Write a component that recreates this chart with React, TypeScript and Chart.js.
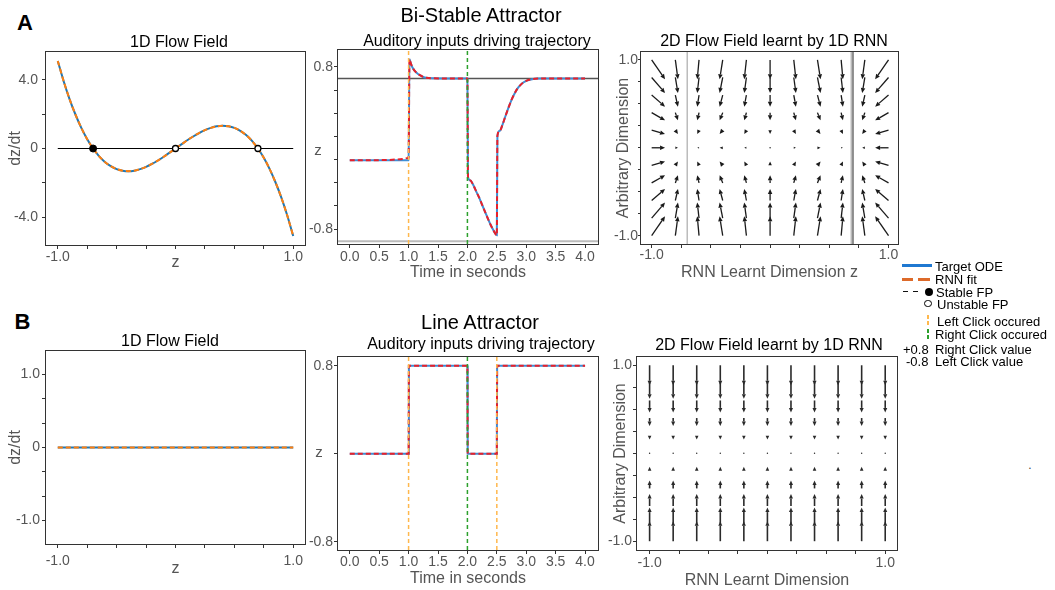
import React, { useEffect, useRef } from 'react';
import { Chart, registerables } from 'chart.js';

Chart.register(...registerables);

const FONT = '"Liberation Sans", Arial, Helvetica, sans-serif';
const TICK_COLOR = '#555555';
const SPINE = '#333333';

// ---------- Colours ----------
const TARGET_BLUE = '#1f77b4';
const FIT_ORANGE = '#ff7f0e';
const TRAJ_BLUE = '#3d8fd6';
const TRAJ_RED = '#e8202a';
const LEFT_CLICK = '#ffb84d';
const RIGHT_CLICK = '#2ca02c';

// ---------- Panel A1 / B1 : 1D flow field ----------
const flowZ = [
  -1.0, -0.95, -0.9, -0.85, -0.8, -0.75, -0.7, -0.65, -0.6, -0.55, -0.5, -0.45, -0.4, -0.35, -0.3, -0.25, -0.2,
  -0.15, -0.1, -0.05, 0, 0.05, 0.1, 0.15, 0.2, 0.25, 0.3, 0.35, 0.4, 0.45, 0.5, 0.55, 0.6, 0.65, 0.7, 0.75, 0.8,
  0.85, 0.9, 0.95, 1.0,
];
const bistableTargetDz = [
  5.1, 3.92, 2.88, 1.98, 1.2, 0.54, 0.0, -0.44, -0.78, -1.03, -1.2, -1.29, -1.32, -1.29, -1.2, -1.07, -0.9, -0.7,
  -0.48, -0.24, 0.0, 0.24, 0.48, 0.7, 0.9, 1.07, 1.2, 1.29, 1.32, 1.29, 1.2, 1.03, 0.78, 0.44, 0.0, -0.54, -1.2,
  -1.98, -2.88, -3.92, -5.1,
];
const bistableFitDz = [
  5.1, 3.92, 2.88, 1.98, 1.2, 0.54, 0.0, -0.44, -0.78, -1.03, -1.2, -1.29, -1.32, -1.29, -1.2, -1.07, -0.9, -0.7,
  -0.48, -0.24, 0.0, 0.24, 0.48, 0.7, 0.9, 1.07, 1.2, 1.29, 1.32, 1.29, 1.2, 1.03, 0.78, 0.44, 0.0, -0.54, -1.2,
  -1.98, -2.88, -3.92, -5.1,
];
const zeroLineZ = [-1, 1];
const zeroLineDz = [0, 0];
const stableFpZ = [-0.7];
const stableFpDz = [0];
const unstableFpZ = [0, 0.7];
const unstableFpDz = [0, 0];

const lineFlowZ = [-1, 1];
const lineTargetDz = [0, 0];
const lineFitDz = [0, 0];

const flowXTicks = [-1, -0.75, -0.5, -0.25, 0, 0.25, 0.5, 0.75, 1];
const flowXLabels = ['-1.0', '', '', '', '', '', '', '', '1.0'];
const flowAYTicks = [-4, -2, 0, 2, 4];
const flowAYLabels = ['-4.0', '', '0', '', '4.0'];
const flowBYTicks = [-1, -0.667, -0.333, 0, 0.333, 0.667, 1];
const flowBYLabels = ['-1.0', '', '', '0', '', '', '1.0'];

// ---------- Panel A2 / B2 : trajectories ----------
const timeTicks = [0, 0.5, 1, 1.5, 2, 2.5, 3, 3.5, 4];
const timeLabels = ['0.0', '0.5', '1.0', '1.5', '2.0', '2.5', '3.0', '3.5', '4.0'];

const bistableTime = [
  0, 0.5, 0.9, 0.99, 1.0, 1.015, 1.03, 1.05, 1.08, 1.12, 1.16, 1.2, 1.25, 1.3, 1.4, 1.6, 2.0, 2.01, 2.05, 2.1, 2.15,
  2.2, 2.25, 2.3, 2.35, 2.4, 2.45, 2.5, 2.51, 2.55, 2.6, 2.65, 2.7, 2.75, 2.8, 2.85, 2.9, 2.95, 3.0, 3.1, 3.2, 3.4,
  4.0,
];
const bistableTargetZ = [
  -0.12, -0.12, -0.12, -0.12, -0.118, 0.876, 0.85, 0.815, 0.78, 0.75, 0.73, 0.715, 0.7, 0.692, 0.687, 0.686, 0.686,
  -0.29, -0.32, -0.366, -0.43, -0.49, -0.56, -0.63, -0.7, -0.765, -0.82, -0.86, 0.12, 0.17, 0.235, 0.32, 0.4, 0.475,
  0.535, 0.585, 0.62, 0.645, 0.662, 0.678, 0.684, 0.686, 0.686,
];
const bistableFitZ = [
  -0.12, -0.12, -0.108, -0.1, -0.098, 0.876, 0.85, 0.815, 0.78, 0.75, 0.73, 0.715, 0.7, 0.692, 0.687, 0.686, 0.686,
  -0.29, -0.32, -0.366, -0.43, -0.49, -0.56, -0.63, -0.7, -0.765, -0.82, -0.86, 0.12, 0.17, 0.235, 0.32, 0.4, 0.475,
  0.535, 0.585, 0.62, 0.645, 0.662, 0.678, 0.684, 0.686, 0.686,
];
const bistableUpperLevel = 0.686;
const bistableLowerLevel = -0.919;
const bistableLeftClicks = [1.0];
const bistableRightClicks = [2.0];

const lineTime = [0, 1.0, 1.005, 2.0, 2.005, 2.5, 2.505, 4.0];
const lineTargetZ = [0, 0, 0.8, 0.8, 0, 0, 0.8, 0.8];
const lineFitZ = [0, 0, 0.8, 0.8, 0, 0, 0.8, 0.8];
const lineLeftClicks = [1.0, 2.5];
const lineRightClicks = [2.0];

const trajAYTicks = [-0.8, -0.571, -0.343, -0.114, 0.114, 0.343, 0.571, 0.8];
const trajAYLabels = ['-0.8', '', '', '', '', '', '', '0.8'];
const trajBYTicks = [-0.8, 0, 0.8];
const trajBYLabels = ['-0.8', '', '0.8'];

// ---------- Panel A3 / B3 : 2D quiver ----------
const quiverGrid = [-1, -0.8, -0.6, -0.4, -0.2, 0, 0.2, 0.4, 0.6, 0.8, 1];
const bistableU = [0.113, 0.022, -0.015, -0.026, -0.018, 0, 0.018, 0.026, 0.015, -0.022, -0.113];
const bistableV = [0.22, 0.176, 0.132, 0.088, 0.044, 0, -0.044, -0.088, -0.132, -0.176, -0.22];
const lineU = [0, 0, 0, 0, 0, 0, 0, 0, 0, 0, 0];
const lineV = [0.227, 0.182, 0.136, 0.091, 0.045, 0, -0.045, -0.091, -0.136, -0.182, -0.227];
const quiverTicks = [-1, -0.75, -0.5, -0.25, 0, 0.25, 0.5, 0.75, 1];
const quiverLabels = ['-1.0', '', '', '', '', '', '', '', '1.0'];
const bistableGrayLines = [-0.7, 0.685];
const bistableBlackLines = [0.7];

// ---------- helpers ----------
const pts = (xs: number[], ys: number[]) => xs.map((x, i) => ({ x, y: ys[i] }));

const framePlugin = {
  id: 'frame',
  afterDatasetsDraw(chart: any) {
    const { ctx, chartArea: a } = chart;
    ctx.save();
    ctx.strokeStyle = SPINE;
    ctx.lineWidth = 1;
    ctx.strokeRect(Math.round(a.left) - 0.5, Math.round(a.top) - 0.5, Math.round(a.right - a.left) + 1, Math.round(a.bottom - a.top) + 1);
    ctx.restore();
  },
};

const quiverPlugin = {
  id: 'quiver',
  afterDatasetsDraw(chart: any, _args: any, opts: any) {
    if (!opts || !opts.grid) return;
    const xs = chart.scales.x;
    const ys = chart.scales.y;
    const ctx = chart.ctx;
    ctx.save();
    ctx.strokeStyle = opts.color || '#222';
    ctx.fillStyle = opts.color || '#222';
    ctx.lineWidth = opts.width || 1.2;
    const g: number[] = opts.grid;
    g.forEach((yv, i) => {
      g.forEach((xv, j) => {
        const x0 = xs.getPixelForValue(xv);
        const y0 = ys.getPixelForValue(yv);
        const x1 = xs.getPixelForValue(xv + opts.u[j]);
        const y1 = ys.getPixelForValue(yv + opts.v[i]);
        const dx = x1 - x0;
        const dy = y1 - y0;
        const L = Math.hypot(dx, dy);
        if (L < 1.2) {
          ctx.beginPath();
          ctx.arc(x0, y0, 0.7, 0, Math.PI * 2);
          ctx.fill();
          return;
        }
        const ux = dx / L;
        const uy = dy / L;
        const hl = Math.min(opts.headLen || 5, L);
        const hw = hl * 0.45;
        const bx = x1 - ux * hl;
        const by = y1 - uy * hl;
        if (L > hl + 0.3) {
          ctx.beginPath();
          ctx.moveTo(x0, y0);
          ctx.lineTo(bx, by);
          ctx.stroke();
        }
        ctx.beginPath();
        ctx.moveTo(x1, y1);
        ctx.lineTo(bx - uy * hw, by + ux * hw);
        ctx.lineTo(bx + uy * hw, by - ux * hw);
        ctx.closePath();
        ctx.fill();
      });
    });
    ctx.restore();
  },
};

interface AxisOpts {
  min: number;
  max: number;
  ticks: number[];
  labels: string[];
  size: number;
  pad: number;
  tickLen?: number;
  title?: string;
  titlePad?: number;
  horizontal: boolean;
}

function makeScale(o: AxisOpts) {
  return {
    type: 'linear',
    position: o.horizontal ? 'bottom' : 'left',
    min: o.min,
    max: o.max,
    afterBuildTicks: (s: any) => {
      s.ticks = o.ticks.map((v) => ({ value: v }));
    },
    afterFit: (s: any) => {
      if (o.horizontal) s.height = o.size;
      else s.width = o.size;
    },
    ticks: {
      autoSkip: false,
      maxRotation: 0,
      minRotation: 0,
      padding: o.pad,
      color: TICK_COLOR,
      font: { family: FONT, size: 14, lineHeight: 1 },
      callback: (_v: any, i: number) => o.labels[i],
    },
    grid: {
      display: true,
      drawOnChartArea: false,
      drawTicks: true,
      tickLength: o.tickLen ?? 4,
      color: SPINE,
      lineWidth: 1,
    },
    border: { display: false },
    title: o.title
      ? {
          display: true,
          text: o.title,
          color: TICK_COLOR,
          font: { family: FONT, size: 16 },
          padding: o.horizontal ? { top: 0, bottom: o.titlePad ?? 0 } : { top: o.titlePad ?? 0, bottom: 0 },
        }
      : { display: false },
  };
}

function baseConfig(datasets: any[], x: any, y: any, padTop: number, padRight: number, quiver?: any) {
  return {
    type: 'line',
    data: { datasets },
    options: {
      responsive: false,
      maintainAspectRatio: false,
      animation: false,
      devicePixelRatio: 1,
      layout: { padding: { left: 0, top: padTop, right: padRight, bottom: 0 } },
      elements: { point: { radius: 0 }, line: { tension: 0 } },
      plugins: {
        legend: { display: false },
        tooltip: { enabled: false },
        title: { display: false },
        quiver: quiver || {},
      },
      scales: { x, y },
    },
    plugins: [framePlugin, quiverPlugin],
  };
}

function lineDs(data: any[], color: string, width: number, order: number, dash: number[] = [], extra: any = {}) {
  return {
    data,
    borderColor: color,
    borderWidth: width,
    borderDash: dash,
    pointRadius: 0,
    fill: false,
    tension: 0,
    order,
    ...extra,
  };
}

function vLines(xsArr: number[], yMin: number, yMax: number, color: string, order: number, width = 1.5, dash: number[] = [4, 3]) {
  return xsArr.map((xv) => lineDs([{ x: xv, y: yMin }, { x: xv, y: yMax }], color, width, order, dash));
}

// ---------- chart configs ----------
const A2_Y = [-0.947, 0.966];
const B2_Y = [-0.875, 0.88];
const A3_X = [-1.09, 1.08];
const A3_Y = [-1.095, 1.09];
const B3_X = [-1.107, 1.1];
const B3_Y = [-1.1, 1.094];

function configA1() {
  const ds = [
    lineDs(pts(stableFpZ, stableFpDz), '#000', 1, 0, [], {
      showLine: false,
      pointRadius: 3.5,
      pointBackgroundColor: '#000',
      pointBorderColor: '#000',
      pointBorderWidth: 1,
    }),
    lineDs(pts(unstableFpZ, unstableFpDz), '#000', 1, 0, [], {
      showLine: false,
      pointRadius: 3,
      pointBackgroundColor: '#fff',
      pointBorderColor: '#000',
      pointBorderWidth: 1.3,
    }),
    lineDs(pts(flowZ, bistableFitDz), FIT_ORANGE, 2, 1, [5, 3], { tension: 0.3 }),
    lineDs(pts(flowZ, bistableTargetDz), TARGET_BLUE, 2, 2, [], { tension: 0.3 }),
    lineDs(pts(zeroLineZ, zeroLineDz), '#000', 1, 3),
  ];
  return baseConfig(
    ds,
    makeScale({ min: -1.1, max: 1.1, ticks: flowXTicks, labels: flowXLabels, size: 35, pad: 1, title: 'z', titlePad: 8, horizontal: true }),
    makeScale({ min: -5.62, max: 5.62, ticks: flowAYTicks, labels: flowAYLabels, size: 46, pad: 4, title: 'dz/dt', titlePad: 6, horizontal: false }),
    10,
    15,
  );
}

function configB1() {
  const ds = [
    lineDs(pts(lineFlowZ, lineFitDz), FIT_ORANGE, 2, 1, [5, 3]),
    lineDs(pts(lineFlowZ, lineTargetDz), TARGET_BLUE, 2, 2),
  ];
  return baseConfig(
    ds,
    makeScale({ min: -1.1, max: 1.1, ticks: flowXTicks, labels: flowXLabels, size: 41, pad: 6, title: 'z', titlePad: 7, horizontal: true }),
    makeScale({ min: -1.32, max: 1.32, ticks: flowBYTicks, labels: flowBYLabels, size: 46, pad: 2, title: 'dz/dt', titlePad: 6, horizontal: false }),
    10,
    15,
  );
}

function configA2() {
  const ds = [
    ...vLines(bistableLeftClicks, A2_Y[0], A2_Y[1], LEFT_CLICK, 0),
    ...vLines(bistableRightClicks, A2_Y[0], A2_Y[1], RIGHT_CLICK, 0),
    lineDs(pts(bistableTime, bistableFitZ), TRAJ_RED, 2, 1, [5, 3], { cubicInterpolationMode: 'monotone' }),
    lineDs(pts(bistableTime, bistableTargetZ), TRAJ_BLUE, 2, 2, [], { cubicInterpolationMode: 'monotone' }),
    lineDs([{ x: -0.2, y: bistableUpperLevel }, { x: 4.22, y: bistableUpperLevel }], '#555', 1.5, 3),
    lineDs([{ x: -0.2, y: bistableLowerLevel }, { x: 4.22, y: bistableLowerLevel }], '#bbbbbb', 2, 3),
  ];
  return baseConfig(
    ds,
    makeScale({ min: -0.2, max: 4.22, ticks: timeTicks, labels: timeLabels, size: 41, pad: 2, title: 'Time in seconds', titlePad: 3, horizontal: true }),
    makeScale({ min: A2_Y[0], max: A2_Y[1], ticks: trajAYTicks, labels: trajAYLabels, size: 38, pad: 1, horizontal: false }),
    10,
    12,
  );
}

function configB2() {
  const ds = [
    ...vLines(lineLeftClicks, B2_Y[0], B2_Y[1], LEFT_CLICK, 0),
    ...vLines(lineRightClicks, B2_Y[0], B2_Y[1], RIGHT_CLICK, 0),
    lineDs(pts(lineTime, lineFitZ), TRAJ_RED, 2, 1, [5, 3]),
    lineDs(pts(lineTime, lineTargetZ), TRAJ_BLUE, 2, 2),
  ];
  return baseConfig(
    ds,
    makeScale({ min: -0.2, max: 4.22, ticks: timeTicks, labels: timeLabels, size: 40, pad: 1, title: 'Time in seconds', titlePad: 2, horizontal: true }),
    makeScale({ min: B2_Y[0], max: B2_Y[1], ticks: trajBYTicks, labels: trajBYLabels, size: 38, pad: 1, horizontal: false }),
    10,
    12,
  );
}

function configA3() {
  const ds = [
    ...vLines(bistableGrayLines, A3_Y[0], A3_Y[1], '#aaaaaa', 1, 1.2, []),
    ...vLines(bistableBlackLines, A3_Y[0], A3_Y[1], '#222222', 0, 1, []),
  ];
  return baseConfig(
    ds,
    makeScale({ min: A3_X[0], max: A3_X[1], ticks: quiverTicks, labels: quiverLabels, size: 41, pad: 0, title: 'RNN Learnt Dimension z', titlePad: 3, horizontal: true }),
    makeScale({ min: A3_Y[0], max: A3_Y[1], ticks: quiverTicks, labels: quiverLabels, size: 36, pad: 0, tickLen: 3, title: 'Arbitrary Dimension', titlePad: 9, horizontal: false }),
    10,
    10,
    { grid: quiverGrid, u: bistableU, v: bistableV, width: 1.3, headLen: 5, color: '#1a1a1a' },
  );
}

function configB3() {
  return baseConfig(
    [],
    makeScale({ min: B3_X[0], max: B3_X[1], ticks: quiverTicks, labels: quiverLabels, size: 40, pad: 2, title: 'RNN Learnt Dimension', titlePad: 0, horizontal: true }),
    makeScale({ min: B3_Y[0], max: B3_Y[1], ticks: quiverTicks, labels: quiverLabels, size: 37, pad: 1, title: 'Arbitrary Dimension', titlePad: 11, horizontal: false }),
    10,
    10,
    { grid: quiverGrid, u: lineU, v: lineV, width: 1.6, headLen: 4.5, color: '#2a2a2a' },
  );
}

interface PanelSpec {
  id: string;
  left: number;
  top: number;
  width: number;
  height: number;
  build: () => any;
}

const panels: PanelSpec[] = [
  { id: 'A1', left: 0, top: 41, width: 320, height: 239, build: configA1 },
  { id: 'A2', left: 300, top: 40, width: 310, height: 245, build: configA2 },
  { id: 'A3', left: 605, top: 42, width: 303, height: 243, build: configA3 },
  { id: 'B1', left: 0, top: 341, width: 320, height: 244, build: configB1 },
  { id: 'B2', left: 300, top: 347, width: 310, height: 243, build: configB2 },
  { id: 'B3', left: 600, top: 347, width: 307, height: 243, build: configB3 },
];

function ChartPanel({ spec }: { spec: PanelSpec }) {
  const ref = useRef<HTMLCanvasElement>(null);
  useEffect(() => {
    if (!ref.current) return;
    const chart = new Chart(ref.current, spec.build());
    return () => chart.destroy();
  }, [spec]);
  return (
    <div style={{ position: 'absolute', left: spec.left, top: spec.top, width: spec.width, height: spec.height }}>
      <canvas ref={ref} width={spec.width} height={spec.height} style={{ display: 'block', width: spec.width, height: spec.height }} />
    </div>
  );
}

function Label(props: { x: number; y: number; text: string; size: number; bold?: boolean; color?: string; align?: 'center' | 'left' }) {
  const { x, y, text, size, bold, color = '#000', align = 'center' } = props;
  return (
    <div
      style={{
        position: 'absolute',
        left: x,
        top: y,
        transform: align === 'center' ? 'translate(-50%, -50%)' : 'translate(0, -50%)',
        fontFamily: FONT,
        fontSize: size,
        fontWeight: bold ? 700 : 400,
        lineHeight: 1,
        whiteSpace: 'nowrap',
        color,
      }}
    >
      {text}
    </div>
  );
}

function Box(props: { left: number; top: number; width: number; height: number; bg: string; radius?: number; border?: string }) {
  const { left, top, width, height, bg, radius = 0, border } = props;
  return (
    <div
      style={{
        position: 'absolute',
        left,
        top,
        width,
        height,
        background: bg,
        borderRadius: radius,
        border,
        boxSizing: 'border-box',
      }}
    />
  );
}

function Legend() {
  const T = 13;
  return (
    <>
      <Box left={902} top={264} width={30} height={3} bg="#1f78d1" />
      <Label x={935} y={265.5} text="Target ODE" size={T} align="left" />
      <Box left={902} top={277.5} width={11} height={3} bg="#dd6a2a" />
      <Box left={918} top={277.5} width={12} height={3} bg="#dd6a2a" />
      <Label x={935} y={278.5} text="RNN fit" size={T} align="left" />
      <Box left={902.5} top={291} width={5} height={1.4} bg="#111" />
      <Box left={912.5} top={291} width={5} height={1.4} bg="#111" />
      <Box left={925} top={288} width={7.5} height={7.5} bg="#000" radius={4} />
      <Label x={936} y={291.5} text="Stable FP" size={T} align="left" />
      <Box left={924} top={299.5} width={7.5} height={7.5} bg="#fff" radius={4} border="1.5px solid #000" />
      <Label x={937} y={303.5} text="Unstable FP" size={T} align="left" />
      <Box left={926.5} top={315} width={2.5} height={3.5} bg={LEFT_CLICK} />
      <Box left={926.5} top={320.5} width={2.5} height={4.5} bg={LEFT_CLICK} />
      <Label x={937} y={320.5} text="Left Click occured" size={T} align="left" />
      <Box left={926.5} top={329} width={2.5} height={3.5} bg={RIGHT_CLICK} />
      <Box left={926.5} top={335} width={2.5} height={4} bg={RIGHT_CLICK} />
      <Label x={935} y={334} text="Right Click occured" size={T} align="left" />
      <Label x={903} y={348.5} text="+0.8" size={T} align="left" />
      <Label x={935} y={348.5} text="Right Click value" size={T} align="left" />
      <Label x={906} y={360.5} text="-0.8" size={T} align="left" />
      <Label x={935} y={360.5} text="Left Click value" size={T} align="left" />
    </>
  );
}

export default function App() {
  return (
    <div style={{ position: 'absolute', left: 0, top: 0, width: 1055, height: 590, background: '#fff', overflow: 'hidden' }}>
      {panels.map((p) => (
        <ChartPanel key={p.id} spec={p} />
      ))}
      <Label x={25} y={22.5} text="A" size={22} bold />
      <Label x={22.5} y={322} text="B" size={22} bold />
      <Label x={481} y={14.5} text="Bi-Stable Attractor" size={20} />
      <Label x={480} y={321.5} text="Line Attractor" size={20} />
      <Label x={179} y={41.5} text="1D Flow Field" size={16} />
      <Label x={170} y={341} text="1D Flow Field" size={16} />
      <Label x={477} y={41} text="Auditory inputs driving trajectory" size={16} />
      <Label x={481} y={344} text="Auditory inputs driving trajectory" size={16} />
      <Label x={774} y={41} text="2D Flow Field learnt by 1D RNN" size={16} />
      <Label x={769} y={345} text="2D Flow Field learnt by 1D RNN" size={16} />
      <Label x={318} y={149} text="z" size={15} color={TICK_COLOR} />
      <Label x={319} y={451} text="z" size={15} color={TICK_COLOR} />
      <Label x={1030} y={465} text="." size={12} color="#444" />
      <Legend />
    </div>
  );
}
